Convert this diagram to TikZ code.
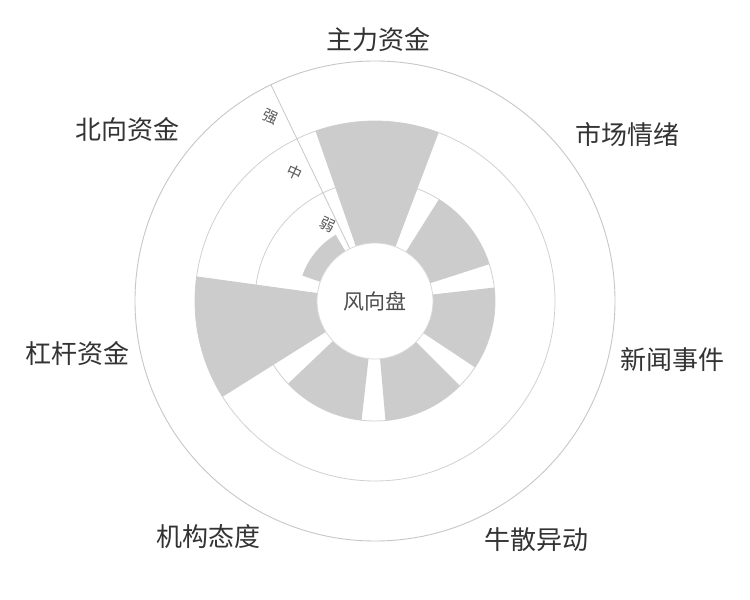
\documentclass[tikz,border=0pt]{standalone}
\usepackage{fontspec}
\usetikzlibrary{calc}
\newfontfamily\cjk{Noto Sans CJK SC}
\begin{document}
\begin{tikzpicture}[x=1pt,y=1pt,
  bar/.style={fill=black!20,draw=none},
  ring/.style={draw=black!18,line width=0.8pt},
  cat/.style={font=\cjk\fontsize{26}{26}\selectfont,text=black!80},
  lvl/.style={font=\cjk\fontsize{15}{15}\selectfont,text=black!65,rotate=-25}]
\fill[white] (0,0) rectangle (750,600);
\useasboundingbox (0,0) rectangle (750,600);
\coordinate (c) at (375,299);
\draw[ring] (c) circle (120);
\draw[ring] (c) circle (180);
\draw[draw=black!22,line width=0.9pt] (c) circle (240);
\foreach \k/\r in {0/180,1/120,2/120,3/120,4/120,5/180,6/77}{
  \pgfmathsetmacro\a{89.3-\k*51.43}
  \fill[bar] (c) -- ++(\a-20:\r) arc[start angle=\a-20,end angle=\a+20,radius=\r] -- cycle;
}
\draw[draw=black!22,line width=0.8pt] (c) ++(115.7:58) -- ++(115.7:182);
\node[circle,minimum size=116pt,fill=white,draw=black!15,line width=0.8pt,font=\cjk\fontsize{21}{21}\selectfont,text=black!70] (hub) at (c) {风向盘};
\node[lvl] (l1) at ($(c)+(122:90)$) {弱};
\node[lvl] (l2) at ($(c)+(122:152)$) {中};
\node[lvl] (l3) at ($(c)+(119.5:212)$) {强};
\node[cat] (n0) at (378,560) {主力资金};
\node[cat] (n1) at (627,465) {市场情绪};
\node[cat] (n2) at (672,240) {新闻事件};
\node[cat] (n3) at (536,60) {牛散异动};
\node[cat] (n4) at (208,63) {机构态度};
\node[cat] (n5) at (77,246) {杠杆资金};
\node[cat] (n6) at (127,470) {北向资金};
\end{tikzpicture}
\end{document}
